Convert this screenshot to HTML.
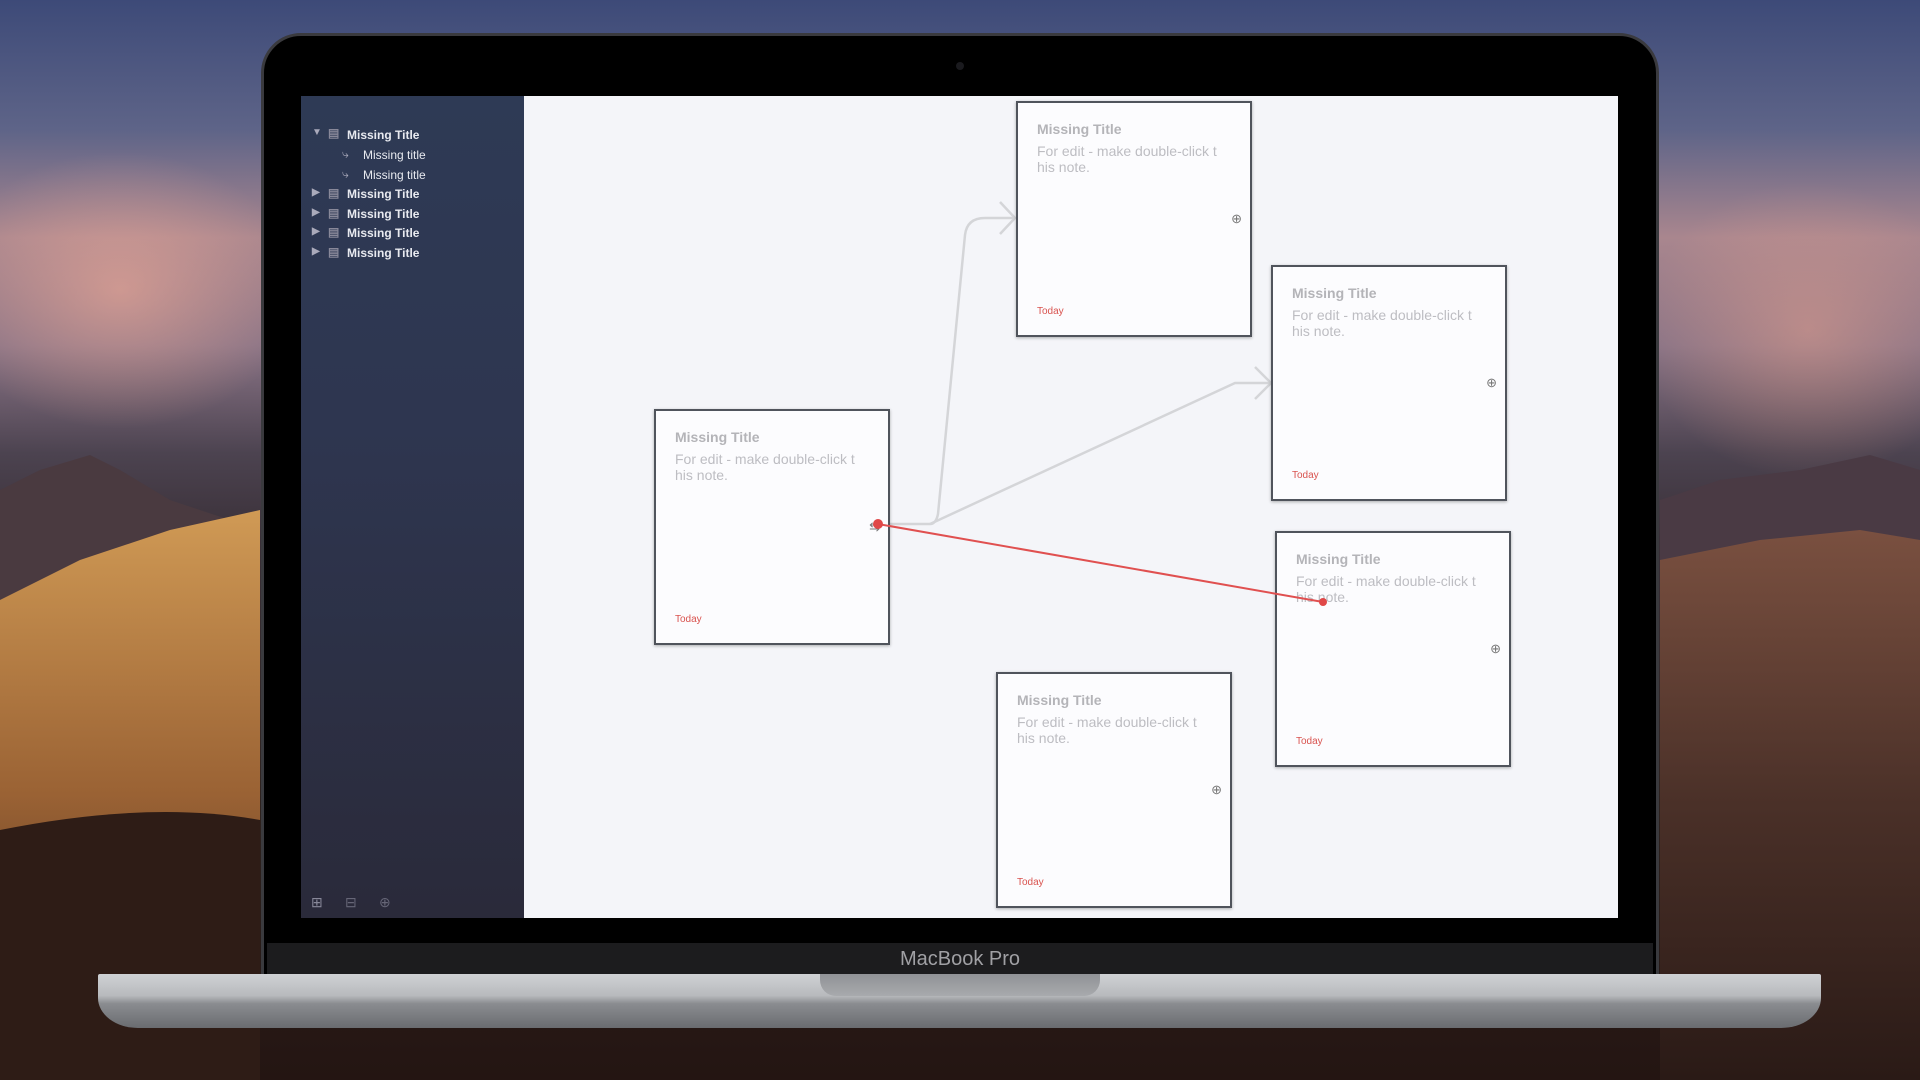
<!DOCTYPE html>
<html><head><meta charset="utf-8"><style>
*{margin:0;padding:0;box-sizing:border-box}
body{width:1920px;height:1080px;overflow:hidden;position:relative;font-family:"Liberation Sans",sans-serif;
background:linear-gradient(180deg,#3d4a78 0%,#5e6488 12%,#a9868e 22%,#8a7486 32%,#4c4350 42%,#3a3038 50%,#2e221e 75%,#241512 100%);}
.abs{position:absolute}
.card{position:absolute;width:236px;height:236px;background:#fcfcfe;border:2px solid #50545c;box-shadow:0 1px 3px rgba(0,0,0,.3)}
.card .t{position:absolute;left:19px;top:18px;font-size:14px;font-weight:bold;color:#b4b4b8}
.card .b{position:absolute;left:19px;top:40px;font-size:14px;line-height:16px;color:#bdbdc2;width:200px}
.card .d{position:absolute;left:19px;bottom:18px;font-size:10px;color:#d9534f}
.card .i{position:absolute;right:8px;top:108px;font-size:13px;color:#777}
.side div{position:absolute;font-size:12px;font-weight:bold;color:#e8eaf0}
</style></head><body>
<div class="abs" style="left:0;top:150px;width:300px;height:280px;background:radial-gradient(ellipse at 40% 50%,rgba(240,170,150,.6),rgba(0,0,0,0) 70%)"></div>
<div class="abs" style="left:1640px;top:180px;width:280px;height:300px;background:radial-gradient(ellipse at 60% 50%,rgba(230,160,140,.5),rgba(0,0,0,0) 70%)"></div>
<!-- left mountains + dunes -->
<svg class="abs" style="left:0;top:0" width="1920" height="1080">
<defs>
<linearGradient id="dune" x1="0" y1="0" x2="0" y2="1"><stop offset="0" stop-color="#d09a55"/><stop offset="0.5" stop-color="#9a6234"/><stop offset="1" stop-color="#3a2219"/></linearGradient>
<linearGradient id="dune2" x1="0" y1="0" x2="0" y2="1"><stop offset="0" stop-color="#7a5040"/><stop offset="0.5" stop-color="#4a3028"/><stop offset="1" stop-color="#2a1a16"/></linearGradient>
</defs>
<path d="M0 490 L40 470 L90 455 L120 470 L170 500 L230 520 L260 540 L260 600 L0 600 Z" fill="#4a3a40"/>
<path d="M0 600 L80 560 L170 530 L260 510 L260 1080 L0 1080 Z" fill="url(#dune)"/>
<path d="M0 830 Q150 800 260 820 L260 1080 L0 1080 Z" fill="#2e1c16"/>
<path d="M1660 500 L1720 480 L1800 470 L1870 455 L1920 470 L1920 620 L1660 620 Z" fill="#4a3a44"/>
<path d="M1660 560 L1760 540 L1860 530 L1920 540 L1920 1080 L1660 1080 Z" fill="url(#dune2)"/>
</svg>
<!-- lid -->
<div class="abs" style="left:261px;top:33px;width:1398px;height:945px;background:#000;border-radius:40px 40px 0 0;border:3px solid #3a3a3e"></div>
<div class="abs" style="left:267px;top:943px;width:1386px;height:32px;background:#1c1c1e"></div>
<div class="abs" style="left:0;top:948px;width:1920px;text-align:center;font-size:20px;color:#a0a0a4">MacBook Pro</div>
<div class="abs" style="left:956px;top:62px;width:8px;height:8px;border-radius:50%;background:#1a1a1e"></div>
<!-- base -->
<div class="abs" style="left:98px;top:974px;width:1723px;height:54px;background:linear-gradient(180deg,#cfd1d4 0%,#b8babd 40%,#8a8c90 55%,#6a6c70 100%);border-radius:2px 2px 40px 40px / 2px 2px 30px 30px"></div>
<div class="abs" style="left:820px;top:974px;width:280px;height:22px;background:linear-gradient(180deg,#909296,#a8aaad);border-radius:0 0 16px 16px"></div>
<!-- screen -->
<div class="abs" style="left:301px;top:96px;width:1317px;height:822px;background:#f4f5f9"></div>
<div class="abs side" style="left:301px;top:96px;width:223px;height:822px;background:linear-gradient(180deg,#2e3a55 0%,#2e3650 40%,#2a2a3a 100%)">
<div style="left:11px;top:31px;font-size:10px;color:#aab">▼</div><div style="left:27px;top:30px;color:#889">▤</div><div style="left:46px;top:32px">Missing Title</div>
<div style="left:41px;top:51px;font-weight:normal;color:#aab">⤷</div><div style="left:62px;top:52px;font-weight:normal">Missing title</div>
<div style="left:41px;top:71px;font-weight:normal;color:#aab">⤷</div><div style="left:62px;top:72px;font-weight:normal">Missing title</div>
<div style="left:11px;top:91px;font-size:10px;color:#aab">▶</div><div style="left:27px;top:90px;color:#889">▤</div><div style="left:46px;top:91px">Missing Title</div>
<div style="left:11px;top:111px;font-size:10px;color:#aab">▶</div><div style="left:27px;top:110px;color:#889">▤</div><div style="left:46px;top:111px">Missing Title</div>
<div style="left:11px;top:130px;font-size:10px;color:#aab">▶</div><div style="left:27px;top:129px;color:#889">▤</div><div style="left:46px;top:130px">Missing Title</div>
<div style="left:11px;top:150px;font-size:10px;color:#aab">▶</div><div style="left:27px;top:149px;color:#889">▤</div><div style="left:46px;top:150px">Missing Title</div>
<div style="left:10px;top:798px;font-size:14px;font-weight:normal;color:#889">⊞</div>
<div style="left:44px;top:798px;font-size:14px;font-weight:normal;color:#667">⊟</div>
<div style="left:78px;top:798px;font-size:14px;font-weight:normal;color:#667">⊕</div>
</div>
<svg class="abs" style="left:0;top:0" width="1920" height="1080">
<path d="M878 524 L930 524 Q936 524 938 514 L965 235 Q967 218 985 218 L1014 218" fill="none" stroke="#d4d5d8" stroke-width="2.5"/>
<path d="M1000 202 L1015 218 L1000 234" fill="none" stroke="#d4d5d8" stroke-width="2.5"/>
<path d="M930 524 L1235 383 L1270 383" fill="none" stroke="#d4d5d8" stroke-width="2.5"/>
<path d="M1255 367 L1271 383 L1255 399" fill="none" stroke="#d4d5d8" stroke-width="2.5"/>
</svg>
<div class="card" style="left:654px;top:409px"><div class="t">Missing Title</div><div class="b">For edit - make double-click t his note.</div><div class="d">Today</div><div class="i">⇆</div></div>
<div class="card" style="left:1016px;top:101px"><div class="t">Missing Title</div><div class="b">For edit - make double-click t his note.</div><div class="d">Today</div><div class="i">⊕</div></div>
<div class="card" style="left:1271px;top:265px"><div class="t">Missing Title</div><div class="b">For edit - make double-click t his note.</div><div class="d">Today</div><div class="i">⊕</div></div>
<div class="card" style="left:1275px;top:531px"><div class="t">Missing Title</div><div class="b">For edit - make double-click t his note.</div><div class="d">Today</div><div class="i">⊕</div></div>
<div class="card" style="left:996px;top:672px"><div class="t">Missing Title</div><div class="b">For edit - make double-click t his note.</div><div class="d">Today</div><div class="i">⊕</div></div>
<svg class="abs" style="left:0;top:0" width="1920" height="1080">
<line x1="878" y1="524" x2="1323" y2="602" stroke="#e05050" stroke-width="2"/>
<circle cx="878" cy="524" r="5" fill="#e04848"/>
<circle cx="1323" cy="602" r="4" fill="#e04848"/>
</svg>
</body></html>
